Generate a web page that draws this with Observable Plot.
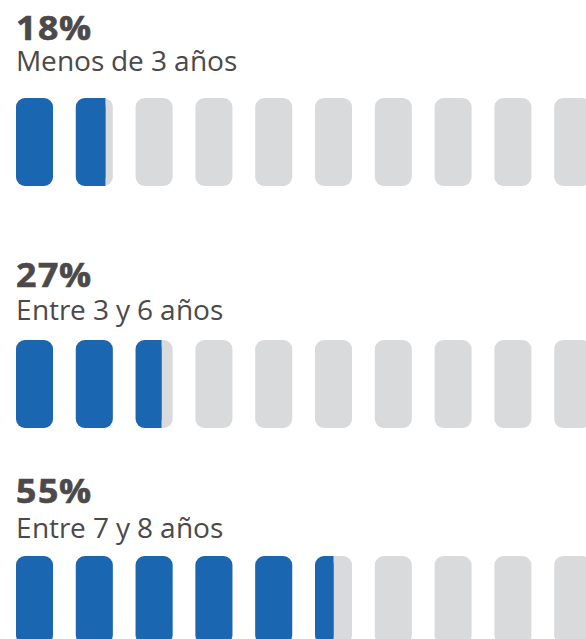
<!DOCTYPE html>
<html><head><meta charset="utf-8">
<script src="https://cdn.jsdelivr.net/npm/d3@7"></script>
<script src="https://cdn.jsdelivr.net/npm/@observablehq/plot@0.6"></script>
<style>
@font-face{font-family:"OSmR";src:local("Open Sans"),local("Open Sans Regular"),local("OpenSans-Regular");font-weight:400;ascent-override:85%;descent-override:20%;line-gap-override:0%}
@font-face{font-family:"OSmB";src:local("Open Sans Bold"),local("OpenSans-Bold");font-weight:700;ascent-override:85%;descent-override:20%;line-gap-override:0%}
body{margin:0;background:#fff;width:586px;height:639px;overflow:hidden;position:relative;color:#4b4949}
.t{position:absolute;left:16px;font-family:"OSmB","Open Sans",sans-serif;font-weight:700;font-size:33px;line-height:33px;letter-spacing:1px;white-space:nowrap;transform:scaleX(1.08);transform-origin:0 50%;-webkit-text-stroke:0.6px #4b4949}
.s{position:absolute;left:16px;font-family:"OSmR","Open Sans",sans-serif;font-weight:400;font-size:28px;line-height:28px;white-space:nowrap}
.p{position:absolute;left:0}
.p svg{display:block}
</style></head><body>
<script>
// Data
const groupLabels = ["Menos de 3 años", "Entre 3 y 6 años", "Entre 7 y 8 años"];
const groupPercents = [18, 27, 55];
const iconCount = 10;

// Layout (pixels)
const titleTops = [12.5, 259.5, 475.8];
const subTops = [47.9, 296.9, 514.9];
const plotTops = [98, 340, 556];
const plotHeight = 88;
const iconWidth = 0.619;   // share of one icon step
const step = 59.8;
const radius = 9;
const blue = "#1b66b0", gray = "#d9dadc";

groupLabels.forEach((label, g) => {
  const pct = groupPercents[g];
  const icons = d3.range(iconCount).map(i => ({i, fill: Math.max(0, Math.min(1, pct / 10 - i))}));
  const t = document.createElement("div");
  t.className = "t"; t.style.top = titleTops[g] + "px"; t.textContent = pct + "%";
  const s = document.createElement("div");
  s.className = "s"; s.style.top = subTops[g] + "px"; s.textContent = label;
  const chart = Plot.plot({
    width: 586, height: plotHeight,
    marginTop: 0, marginBottom: 0, marginLeft: 0, marginRight: 0,
    x: {domain: [0, iconCount - 1 + iconWidth], range: [16, 16 + (iconCount - 1 + iconWidth) * step], axis: null},
    marks: [
      Plot.rect(icons, {x1: d => d.i, x2: d => d.i + iconWidth, fill: gray, rx: radius}),
      Plot.rect(icons.filter(d => d.fill > 0), {x1: d => d.i, x2: d => d.i + iconWidth * d.fill, fill: blue, rx: radius}),
      Plot.rect(icons.filter(d => d.fill > 0 && d.fill < 1), {x1: d => d.i + radius / step, x2: d => d.i + iconWidth * d.fill, fill: blue})
    ]
  });
  const p = document.createElement("div");
  p.className = "p"; p.style.top = plotTops[g] + "px";
  p.appendChild(chart);
  document.body.append(t, s, p);
});
</script>
</body></html>
